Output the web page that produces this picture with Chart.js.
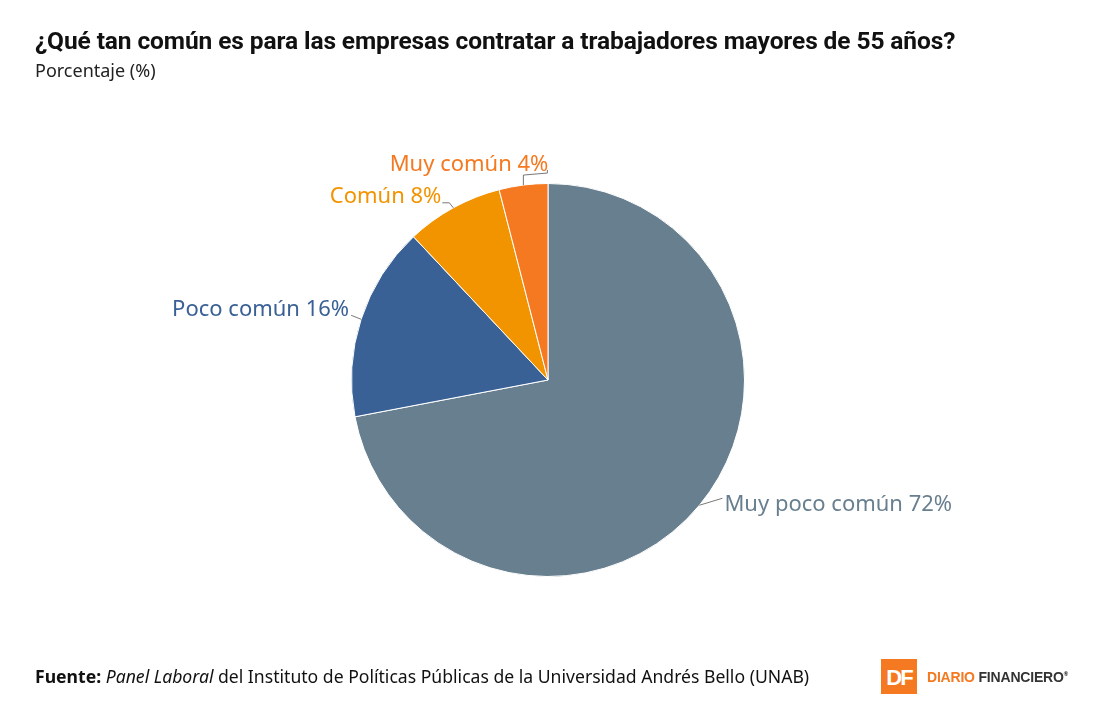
<!DOCTYPE html>
<html lang="es">
<head>
<meta charset="utf-8">
<script src="https://cdn.jsdelivr.net/npm/chart.js@4.4.1/dist/chart.umd.min.js"></script>
<style>
  body { margin: 0; background: #fff; width: 1095px; height: 720px; position: relative; overflow: hidden; }
  #chart { position: absolute; left: 0; top: 0; }
  .title { position: absolute; left: 35px; top: 26px; font-family: "Roboto", sans-serif; font-weight: bold; font-size: 24.5px; color: #111; white-space: nowrap; letter-spacing: -0.1px; }
  .subtitle { position: absolute; left: 35px; top: 58px; font-family: "Noto Sans", sans-serif; font-size: 18px; color: #222; }
  .source { position: absolute; left: 35px; top: 664px; font-family: "Noto Sans", sans-serif; font-size: 17.6px; color: #111; white-space: nowrap; }
  .logo { position: absolute; left: 881px; top: 659px; font-family: "Liberation Sans", Arial, sans-serif; font-weight: bold; }
  .logo .box { position: absolute; left: 0; top: 0; width: 36px; height: 35px; background: #f47920; color: #fff; font-size: 22px; line-height: 37px; text-align: center; letter-spacing: -2px; }
  .logo .name { position: absolute; left: 46px; top: 10px; font-size: 14px; white-space: nowrap; letter-spacing: -0.2px; }
</style>
</head>
<body>
<canvas id="chart" width="1095" height="720"></canvas>
<div class="title">¿Qué tan común es para las empresas contratar a trabajadores mayores de 55 años?</div>
<div class="subtitle">Porcentaje (%)</div>
<div class="source"><b>Fuente:</b> <i>Panel Laboral</i> del Instituto de Políticas Públicas de la Universidad Andrés Bello (UNAB)</div>
<div class="logo"><div class="box">DF</div><div class="name"><span style="color:#f47920">DIARIO</span> <span style="color:#333">FINANCIERO</span><sup style="font-size:6px">®</sup></div></div>
<script>
    // Chart data
    const categories = ['Muy poco común', 'Poco común', 'Común', 'Muy común'];
    const values = [72, 16, 8, 4];
    const sliceColors = ['#687f8f', '#3a6196', '#f29400', '#f47920'];

    // Leader line paths (relative to the slice edge) and label anchors
    const labelLayout = [
        { path: [[0, 0], [23, -7]], text: [25, 6], align: 'left' },
        { path: [[0, 0], [-10, -4]], text: [-12, -3], align: 'right' },
        { path: [[0, 0], [-4, -5], [-11, -5]], text: [-12, -5], align: 'right' },
        { path: [[0, 0], [0, -10], [24, -12], [24, -15]], text: [25, -14], align: 'right' }
    ];

    const pieLabels = {
        id: 'pieLabels',
        afterDatasetsDraw(chart) {
            const ctx = chart.ctx;
            const arcs = chart.getDatasetMeta(0).data;
            ctx.save();
            ctx.font = '22px "Noto Sans", sans-serif';
            ctx.textBaseline = 'alphabetic';
            arcs.forEach((arc, i) => {
                const p = arc.getProps(['x', 'y', 'startAngle', 'endAngle', 'outerRadius'], true);
                const mid = (p.startAngle + p.endAngle) / 2;
                const px = p.x + Math.cos(mid) * p.outerRadius;
                const py = p.y + Math.sin(mid) * p.outerRadius;
                const lay = labelLayout[i];
                ctx.strokeStyle = '#555';
                ctx.lineWidth = 0.8;
                ctx.beginPath();
                lay.path.forEach(([dx, dy], k) => {
                    if (k === 0) ctx.moveTo(px + dx, py + dy);
                    else ctx.lineTo(px + dx, py + dy);
                });
                ctx.stroke();
                ctx.fillStyle = sliceColors[i];
                ctx.textAlign = lay.align;
                ctx.fillText(categories[i] + ' ' + values[i] + '%', px + lay.text[0], py + lay.text[1]);
            });
            ctx.restore();
        }
    };

    const ctx = document.getElementById('chart').getContext('2d');
    new Chart(ctx, {
        type: 'pie',
        data: {
            labels: categories,
            datasets: [{
                data: values,
                backgroundColor: sliceColors,
                borderColor: '#ffffff',
                borderWidth: 1
            }]
        },
        options: {
            responsive: false,
            animation: false,
            layout: { padding: { top: 183, bottom: 143, left: 351, right: 350 } },
            plugins: {
                legend: { display: false },
                tooltip: { enabled: false }
            }
        },
        plugins: [pieLabels]
    });
</script>
</body>
</html>
